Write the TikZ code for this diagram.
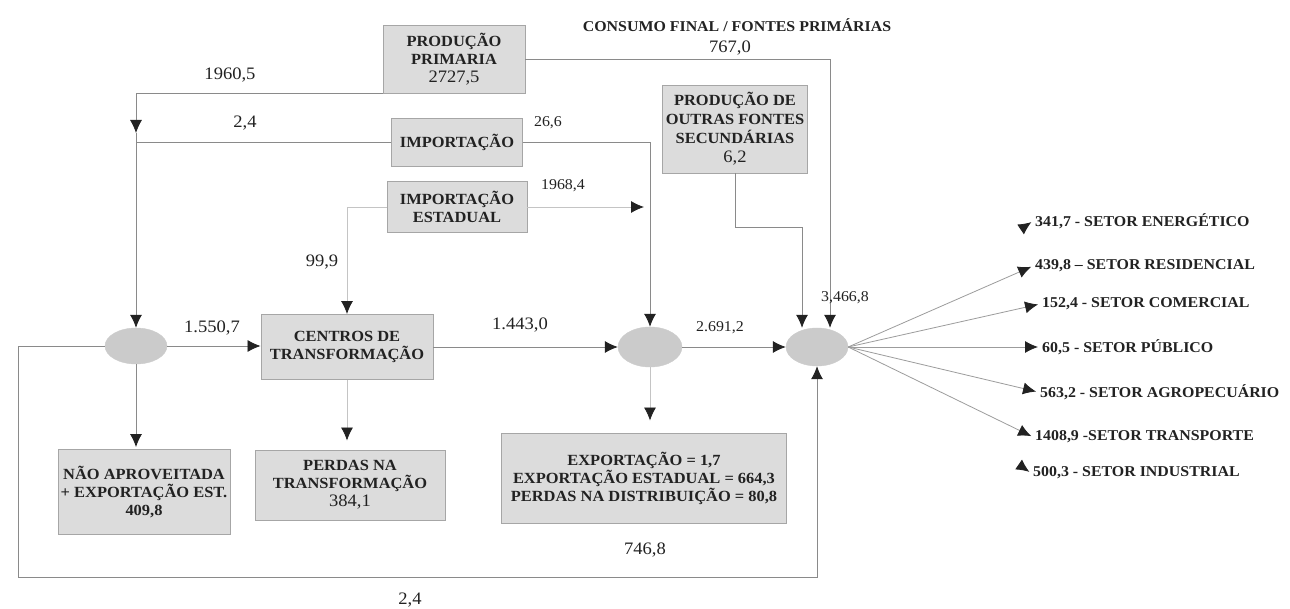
\documentclass[tikz,border=0pt]{standalone}
\usepackage{fontspec}
\setmainfont[FakeStretch=1.06]{Liberation Serif}
\usetikzlibrary{arrows.meta,shapes.geometric}
\definecolor{boxfill}{HTML}{DCDCDC}
\definecolor{boxline}{HTML}{A6A6A6}
\definecolor{ellfill}{HTML}{CBCBCB}
\definecolor{wirec}{HTML}{8A8A8A}
\definecolor{faint}{HTML}{C4C4C4}
\definecolor{fanc}{HTML}{9C9C9C}
\definecolor{ink}{HTML}{222222}
\tikzset{
  box/.style={rectangle, draw=boxline, fill=boxfill, line width=0.9pt, align=center, inner sep=0pt,
    font=\fontsize{15.5}{18}\selectfont\bfseries, text=ink},
  hub/.style={ellipse, fill=ellfill, draw=ellfill, inner sep=0pt},
  wire/.style={draw=wirec, line width=0.8pt},
  arr/.style={wire, -{Latex[length=13pt,width=12pt,color=ink]}},
  num/.style={font=\fontsize{17.5}{20}\selectfont, text=ink, inner sep=1pt},
  smallnum/.style={font=\fontsize{15}{18}\selectfont, text=ink, inner sep=1pt},
  sector/.style={font=\fontsize{15}{18}\selectfont\bfseries, text=ink, anchor=west, inner sep=2pt},
}
\newcommand{\bignum}[1]{{\mdseries\fontsize{17.5}{18}\selectfont #1}}
\begin{document}
\begin{tikzpicture}[x=1pt,y=-1pt]
\fill[white] (0,0) rectangle (1290,609);
\useasboundingbox (0,0) rectangle (1290,609);

% boxes
\node[box, minimum width=142pt, minimum height=68pt] (pp) at (454,59) {PRODUÇÃO\\PRIMARIA\\\bignum{2727,5}};
\node[box, minimum width=131pt, minimum height=48pt] (imp) at (457,142) {IMPORTAÇÃO};
\node[box, minimum width=140pt, minimum height=51pt] (ie) at (457,207) {IMPORTAÇÃO\\ESTADUAL};
\node[box, minimum width=145pt, minimum height=88pt, font=\fontsize{15.5}{19}\selectfont\bfseries] (pof) at (735,129) {PRODUÇÃO DE\\OUTRAS FONTES\\SECUNDÁRIAS\\\bignum{6,2}};
\node[box, minimum width=172pt, minimum height=65pt] (ct) at (347,347) {CENTROS DE\\TRANSFORMAÇÃO};
\node[box, minimum width=172pt, minimum height=85pt] (na) at (144,492) {NÃO APROVEITADA\\+ EXPORTAÇÃO EST.\\409,8};
\node[box, minimum width=190pt, minimum height=70pt] (pt) at (350,485) {PERDAS NA\\TRANSFORMAÇÃO\\\bignum{384,1}};
\node[box, minimum width=285pt, minimum height=90pt] (ex) at (644,478) {EXPORTAÇÃO = 1,7\\EXPORTAÇÃO ESTADUAL = 664,3\\PERDAS NA DISTRIBUIÇÃO = 80,8};

% hubs
\node[hub, minimum width=62pt, minimum height=36pt] (e1) at (136,346) {};
\node[hub, minimum width=64pt, minimum height=40pt] (e2) at (650,347) {};
\node[hub, minimum width=62pt, minimum height=38pt] (e3) at (817,347) {};

% coordinates
\coordinate (j0) at (136,142);
\coordinate (j1) at (650,207);
\coordinate (lp) at (18,577);

% connectors
\draw[arr] (pp.south west) -| ([yshift=9pt]j0);
\draw[wire] ([yshift=9pt]j0) -- (j0);
\draw[arr] (imp.west) -| (e1.north);
\draw[arr] (imp.east) -| (e2.north);
\draw[arr, draw=faint] (ie.east) -- ([xshift=-6pt]j1);
\draw[arr, draw=faint] (ie.west) -| (ct.north);
\draw[arr] (pp.east) -| ([xshift=13pt]e3.north);
\draw[arr] (pof.south) -- ++(0,54) -| ([xshift=-15pt]e3.north);
\draw[arr] (e1.east) -- (e1.east -| ct.west);
\draw[arr] (ct.east) -- (e2.west);
\draw[arr] (e2.east) -- (e3.west);
\draw[arr, shorten >=2pt] (e1.south) -- (e1.south |- na.north);
\draw[arr, draw=faint, shorten >=9pt] (ct.south) -- (ct.south |- pt.north);
\draw[arr, draw=faint, shorten >=12pt] (e2.south) -- (e2.south |- ex.north);
\draw[arr] (e1.west) -| (lp) -| (e3.south);

% flow labels
\node[num] (l1) at (230,75) {1960,5};
\node[num] (l2) at (245,123) {2,4};
\node[smallnum] (l3) at (548,123) {26,6};
\node[smallnum] (l4) at (563,186) {1968,4};
\node[num] (l5) at (322,262) {99,9};
\node[num] (l6) at (212,328) {1.550,7};
\node[num] (l7) at (520,325) {1.443,0};
\node[smallnum] (l8) at (720,328) {2.691,2};
\node[smallnum] (l9) at (845,298) {3,466,8};
\node[font=\fontsize{15}{18}\selectfont\bfseries, text=ink] (cf) at (737,25) {CONSUMO FINAL / FONTES PRIMÁRIAS};
\node[num] (cfv) at (730,48) {767,0};
\node[num] (l10) at (645,550) {746,8};
\node[num] (l11) at (410,600) {2,4};

% sectors
\node[sector] (s1) at (1033,221) {341,7 - SETOR ENERGÉTICO};
\node[sector] (s2) at (1033,266) {439,8 – SETOR RESIDENCIAL};
\node[sector] (s3) at (1040,304) {152,4 - SETOR COMERCIAL};
\node[sector] (s4) at (1040,347) {60,5 - SETOR PÚBLICO};
\node[sector] (s5) at (1038,392) {563,2 - SETOR AGROPECUÁRIO};
\node[sector] (s6) at (1033,437) {1408,9 -SETOR TRANSPORTE};
\node[sector] (s7) at (1031,473) {500,3 - SETOR INDUSTRIAL};

\draw[arr, draw=white, shorten >=2pt] (e3.east) -- (s1.west);
\draw[arr, draw=white, shorten >=2pt] (e3.east) -- (s7.west);
\draw[arr, draw=fanc, shorten >=2pt] (e3.east) -- (s2.west);
\draw[arr, draw=fanc, shorten >=2pt] (e3.east) -- (s3.west);
\draw[arr, draw=fanc, shorten >=2pt] (e3.east) -- (s4.west);
\draw[arr, draw=fanc, shorten >=2pt] (e3.east) -- (s5.west);
\draw[arr, draw=fanc, shorten >=2pt] (e3.east) -- (s6.west);
\end{tikzpicture}
\end{document}
